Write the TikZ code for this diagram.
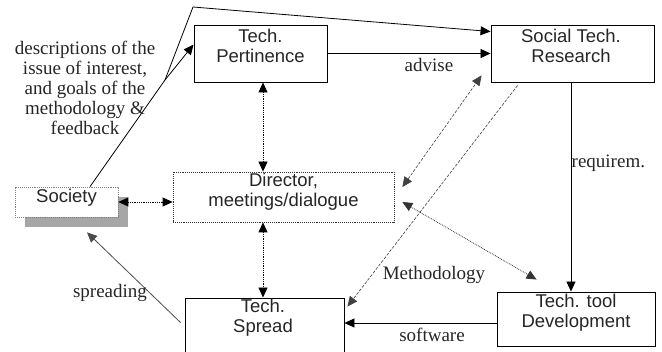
\documentclass[tikz,border=0pt]{standalone}
\usepackage{fontspec}
\setmainfont{Liberation Serif}
\newfontfamily\boxfont{Liberation Sans}
\usetikzlibrary{arrows.meta,calc,shadows}
\tikzset{
 boxframe/.style={draw=black, line width=0.9pt, inner sep=0pt, fill=white},
 boxtext/.style={font=\boxfont\fontsize{18.5}{20}\selectfont, align=center, inner sep=0pt, anchor=north, text=black!85},
 lbl/.style={font=\fontsize{19}{20}\selectfont, inner sep=0pt, text=black!85},
 tipa/.tip={Triangle[length=10pt,width=9pt]},
 arr/.style={line width=0.8pt, -tipa},
 dotline/.style={line width=0.8pt, densely dotted, tipa-tipa},
 dashline/.style={line width=0.6pt, dash pattern=on 3pt off 1.5pt, black!75}
}
\begin{document}
\begin{tikzpicture}[x=1pt,y=-1pt]
\useasboundingbox (0,0) rectangle (662,352);
\clip (0,0) rectangle (662,352);
\fill[white] (0,0) rectangle (662,352);

% boxes
\node[boxframe, minimum width=133, minimum height=57] (tp) at (260.5,53.5) {};
\node[boxtext] (tpt) at ($(tp.north)+(0,4.5)$) {Tech.\\Pertinence};

\node[boxframe, minimum width=163, minimum height=57] (sr) at (572.5,53.5) {};
\node[boxtext] (srt) at ($(sr.north)+(-1.5,4.5)$) {Social Tech.\\Research};

\node[boxframe, draw=black!80, densely dotted, line width=0.8pt, minimum width=221, minimum height=50] (dir) at (283.5,197) {};
\node[boxtext] (dirt) at ($(dir.north)+(0,1.5)$) {Director,\\meetings/dialogue};

\node[boxframe, draw=gray, densely dotted, line width=0.7pt, minimum width=103, minimum height=30,
      general shadow={shadow xshift=10pt, shadow yshift=-10pt, fill=gray!70}] (soc) at (66.5,202) {};
\node[boxtext] (soct) at ($(soc.north)+(0,2)$) {Society};

\node[boxframe, minimum width=159, minimum height=58] (spread) at (264.5,327) {};
\node[boxtext] (spreadt) at ($(spread.north)+(-1.5,1.5)$) {Tech.\\Spread};

\node[boxframe, minimum width=158, minimum height=54] (ttd) at (576,319) {};
\node[boxtext] (ttdt) at ($(ttd.north)+(0,2.5)$) {Tech. tool\\Development};

% society to pertinence / research
\coordinate (split) at (165,80);
\coordinate (bend) at (193,7);
\draw[arr] ($(soc.north)+(23.5,0)$) -- (split) -- (bend) -- ($(sr.north west)+(0,7)$);
\draw[arr] (split) -- ($(tp.north west)+(0,20)$);
\node[lbl, align=center, anchor=north] (desc) at (85,41)
  {descriptions of the\\issue of interest,\\and goals of the\\methodology \&\\feedback};

% advise
\draw[arr] (tp.east) -- (sr.west);
\node[lbl, anchor=base] (advise) at (429,72) {advise};

% dotted double arrows
\draw[dotline] ($(tp.south)+(2.5,0)$) -- ($(dir.north)+(-20.5,0)$);
\draw[dotline] ($(dir.south)+(-20.5,0)$) -- ($(spread.north)+(-1.5,0)$);
\draw[dotline] (soc.east) -- (soc.east -| dir.west);
\draw[dotline, black!80] ($(dir.east)+(8,5)$) -- ($(ttd.north west)+(40,-12)$);

% dashed arrows
\draw[dashline, tipa-tipa] ($(dir.east)+(8,-10)$) -- ($(sr.south west)+(-9,-7)$);
\draw[dashline, -tipa] ($(sr.south west)+(27,3)$) -- ($(spread.north east)+(3,9)$);
\node[lbl, anchor=base] (meth) at (434,280) {Methodology};

% requirements
\draw[arr] ($(sr.south)+(-1.5,0)$) -- ($(ttd.north)+(-5,0)$);
\node[lbl, anchor=base west] (req) at (571.5,168) {requirem.};

% software
\draw[arr] ($(ttd.west)+(0,4)$) -- ($(spread.east)+(0,-4)$);
\node[lbl, anchor=base] (soft) at (432,342) {software};

% spreading
\draw[arr, black!70] ($(spread.north west)+(-4,25)$) -- ($(soc.south)+(20.5,15)$);
\node[lbl, anchor=base] (spreading) at (110,298) {spreading};
\end{tikzpicture}
\end{document}
